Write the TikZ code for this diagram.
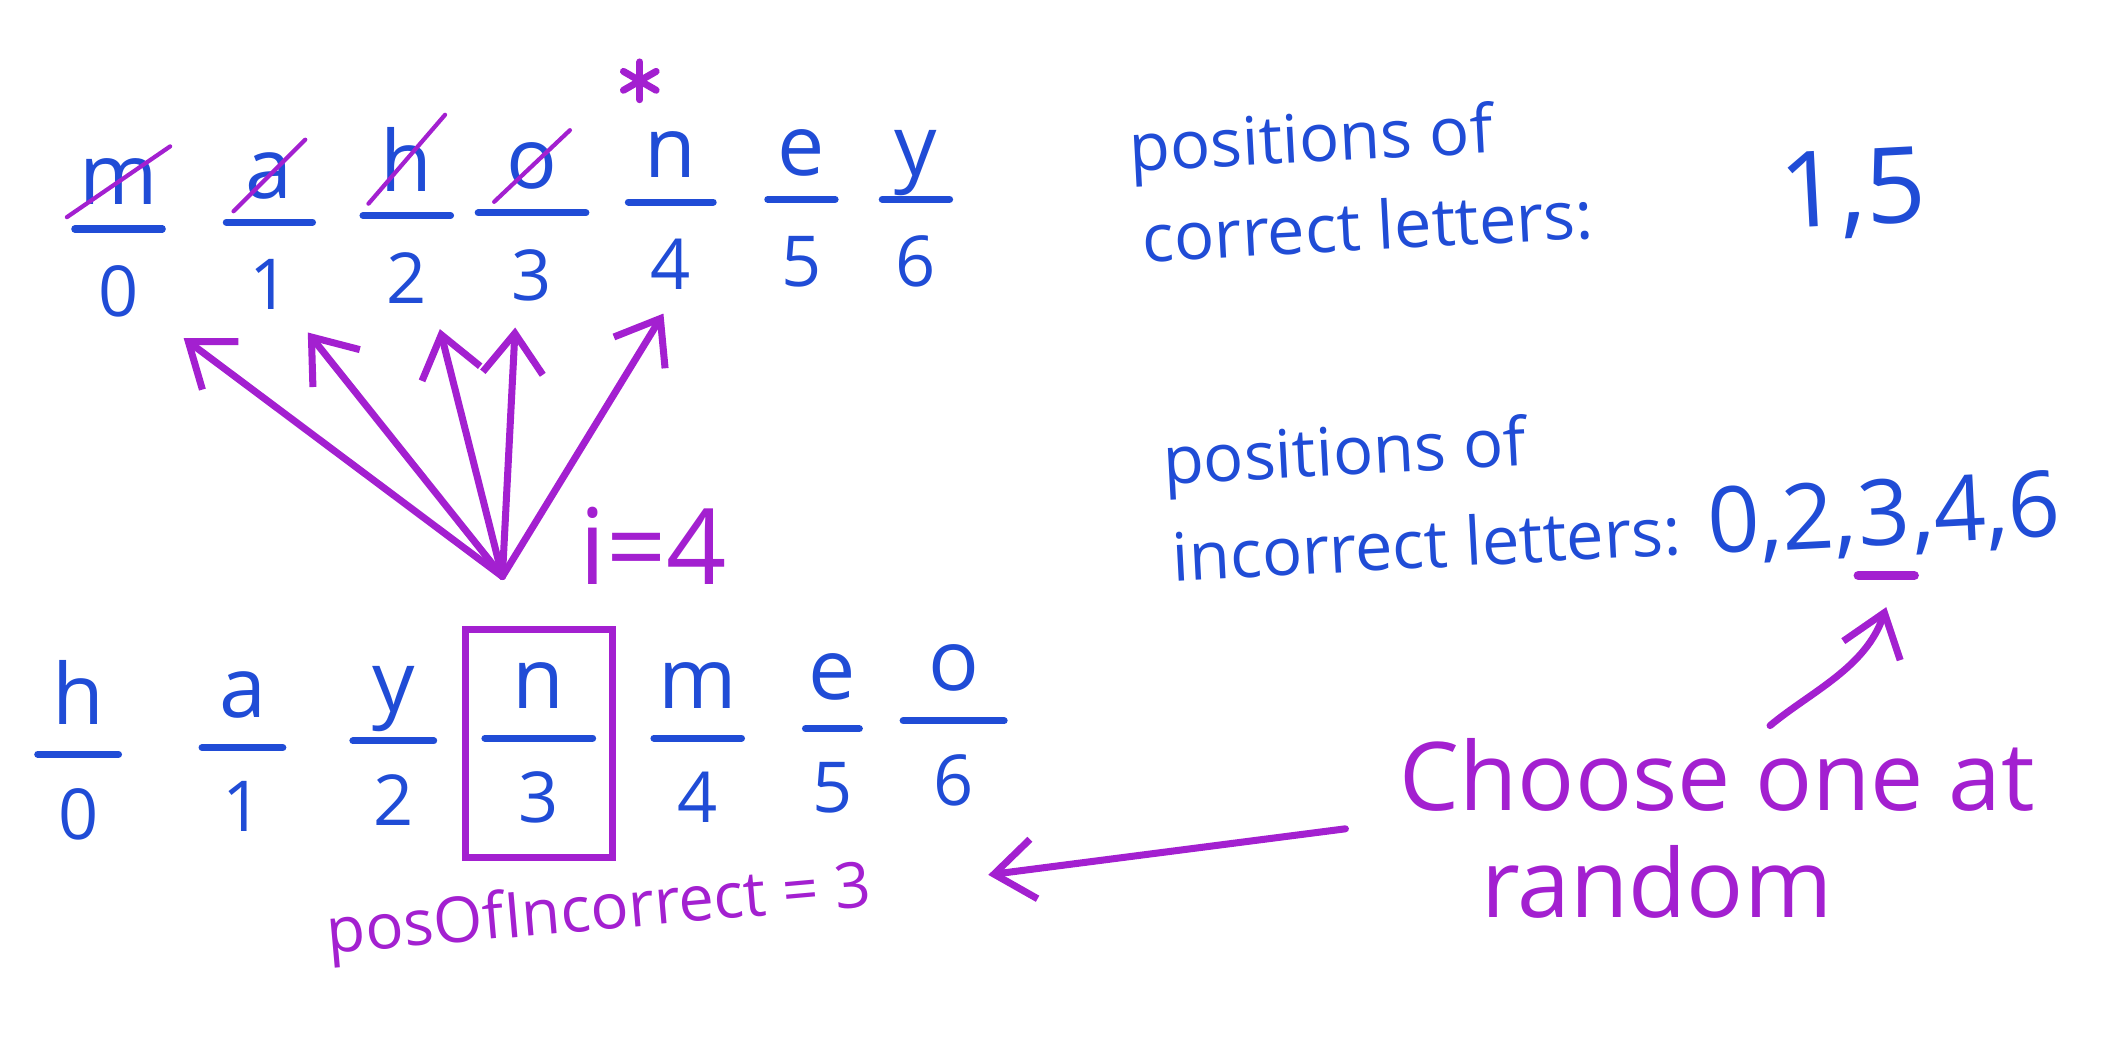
\documentclass[tikz,border=0pt]{standalone}
\usepackage{fontspec}
\setmainfont{Open Sans}
\usetikzlibrary{arrows.meta,positioning,fit,calc}
\definecolor{penblue}{RGB}{32,76,214}
\definecolor{penpurple}{RGB}{163,32,208}

\begin{document}
\begin{tikzpicture}[x=0.01347cm,y=-0.01347cm,
    letter/.style={text=penblue,font=\fontsize{24}{24}\selectfont},
    idx/.style={text=penblue,font=\fontsize{20}{20}\selectfont},
    note/.style={text=penblue,font=\fontsize{19}{22}\selectfont,rotate=3},
    digits/.style={text=penblue,font=\fontsize{26}{28}\selectfont,inner xsep=0pt,rotate=3},
    remark/.style={text=penpurple,font=\fontsize{27}{30}\selectfont},
    blank/.style={draw=penblue,line width=2pt,line cap=round},
    strike/.style={draw=penpurple,line width=1.2pt,line cap=round},
    pen/.style={draw=penpurple,line width=2pt,line cap=round},
    parrow/.style={pen,-{Straight Barb[length=4mm,width=6mm]}}]
  \useasboundingbox (0,0) rectangle (1568,788);

  % top row: the guess, with indices
  \foreach \i/\ch/\x/\y/\w in {0/m/88/170/65,1/a/200/165/64,2/h/302/160/65,3/o/395/158/80,4/n/498/150/63,5/e/595/148/50,6/y/680/148/50}{
    \node[letter,anchor=base] (tl\i) at (\x,{\y-18}) {\ch};
    \draw[blank] ({\x-\w/2},\y) -- ({\x+\w/2},\y);
    \node[idx,anchor=north] (tn\i) at (\x,{\y+18}) {\i};
  }
  \foreach \i in {0,...,3}
    \draw[strike] (tl\i.south west) -- (tl\i.north east); % crossed out
  % star over the n
  \coordinate (star) at (475,60);
  \foreach \a in {90,30,150}
    \draw[pen] (star) ++(\a:14) -- ++(\a+180:28);

  % bottom row: the answer
  \foreach \i/\ch/\x/\y/\w in {0/h/58/560/60,1/a/180/555/60,2/y/292/550/60,3/n/400/548/80,4/m/518/548/65,5/e/618/541/40,6/o/708/535/75}{
    \node[letter,anchor=base] (bl\i) at (\x,{\y-22}) {\ch};
    \draw[blank] ({\x-\w/2},\y) -- ({\x+\w/2},\y);
    \node[idx,anchor=north] (bn\i) at (\x,{\y+16}) {\i};
  }
  \node[pen,fit=(bl3)(bn3),inner xsep=10pt,inner ysep=6pt] (pick) {};
  \node[remark,font=\fontsize{30}{30}\selectfont] (ival) at (485,405) {i=4};

  % fan of arrows
  \coordinate (fan) at (373,428);
  \foreach \i/\dx in {0/40,1/22,2/22,3/-12,4/0}
    \draw[parrow,shorten >=4pt] (fan) -- ($(tn\i.south)+(\dx,0)$);

  \node[remark,font=\fontsize{18}{20}\selectfont,rotate=5] (pos) at (445,678) {posOfIncorrect = 3};

  % right side
  \node[note,anchor=base west] (cpos) at (830,128) {positions of};
  \node[note,anchor=base west] (cline) at (840,195) {correct letters:};
  \node[digits,font=\fontsize{30}{32}\selectfont,anchor=base west] (cvals) at (1322,170) {1,5};

  \node[note,anchor=base west] (ipos) at (855,360) {positions of};
  \node[note,anchor=base west] (iline) at (862,432) {incorrect letters:};
  \node[digits,anchor=base west] (ia) at ([xshift=4pt]iline.base east) {0,2,};
  \node[digits,anchor=base west] (i3) at (ia.base east) {3};
  \node[digits,anchor=base west] (ib) at (i3.base east) {,4,6};
  \coordinate (mark3) at ([yshift=-5pt]i3.south);
  \draw[pen,line width=2.6pt] ([xshift=-8pt]mark3) -- ([xshift=8pt]mark3);

  \node[remark] (choose) at (1275,575) {Choose one at};
  \node[remark] (rnd) at (1230,655) {random};
  \draw[parrow] ([xshift=15pt]choose.north) .. controls +(30,-25) and +(-15,45) .. ([yshift=-9pt]mark3);
  \draw[parrow,shorten <=12pt,shorten >=30pt] (choose.south west) -- (pos.east);
\end{tikzpicture}
\end{document}
